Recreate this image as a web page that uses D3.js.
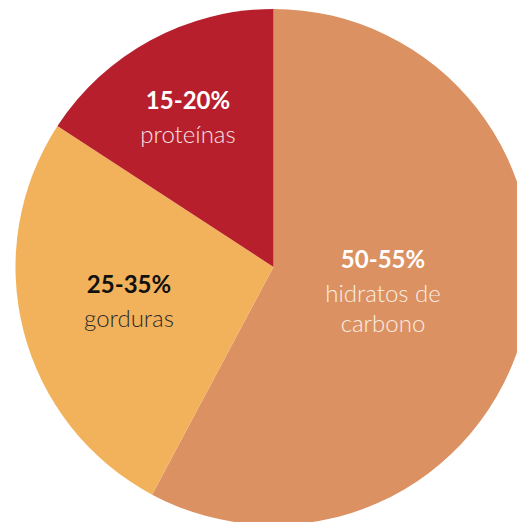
<!DOCTYPE html>
<html>
<head>
<meta charset="utf-8">
<script src="https://cdn.jsdelivr.net/npm/d3@7"></script>
<style>
  html, body { margin: 0; padding: 0; background: #ffffff; }
  svg { display: block; }
</style>
</head>
<body>
<svg id="chart" width="517" height="522"></svg>
<script>
// Macronutrient share of daily energy
const nutrients = ["hidratos de carbono", "gorduras", "proteínas"];
const shares = [57.8, 26.4, 15.8];
const rangeLabels = ["50-55%", "25-35%", "15-20%"];
const nameLines = [["hidratos de", "carbono"], ["gorduras"], ["proteínas"]];
const sliceColors = ["#db9161", "#f2b25b", "#b71f2d"];
const headColors = ["#ffffff", "#111111", "#ffffff"];
const nameColors = ["#fbeee3", "#2a2a2a", "#f6e2e3"];

// layout
const cx = 273.5, cy = 267, radius = 258;
// heading baseline position of each label, relative to the pie centre
const labelAt = [
  { x: 109.5, y: 1 },
  { x: -144.5, y: 25.5 },
  { x: -85.5, y: -158 }
];
const lineGap = [34, 30];

const svg = d3.select("#chart");
const g = svg.append("g").attr("transform", `translate(${cx},${cy})`);

const table = nutrients.map((n, i) => ({ name: n, value: shares[i], i }));

const pie = d3.pie().value(d => d.value).sort(null);
const arc = d3.arc().innerRadius(0).outerRadius(radius);
const arcs = pie(table);

g.selectAll("path.slice")
  .data(arcs)
  .join("path")
  .attr("class", "slice")
  .attr("d", arc)
  .attr("fill", d => sliceColors[d.data.i]);

const labels = g.selectAll("g.label")
  .data(arcs)
  .join("g")
  .attr("class", "label")
  .attr("transform", d => `translate(${labelAt[d.data.i].x},${labelAt[d.data.i].y})`);

labels.append("text")
  .attr("text-anchor", "middle")
  .attr("font-family", "Lato, 'Open Sans', sans-serif")
  .attr("font-weight", 700)
  .attr("font-size", 24)
  .attr("fill", d => headColors[d.data.i])
  .text(d => rangeLabels[d.data.i]);

labels.each(function (d) {
  const sel = d3.select(this);
  nameLines[d.data.i].forEach((line, k) => {
    sel.append("text")
      .attr("text-anchor", "middle")
      .attr("y", lineGap[0] + k * lineGap[1])
      .attr("font-family", "Lato, 'Open Sans', sans-serif")
      .attr("font-weight", 300)
      .attr("font-size", 24)
      .attr("fill", nameColors[d.data.i])
      .text(line);
  });
});
</script>
</body>
</html>
